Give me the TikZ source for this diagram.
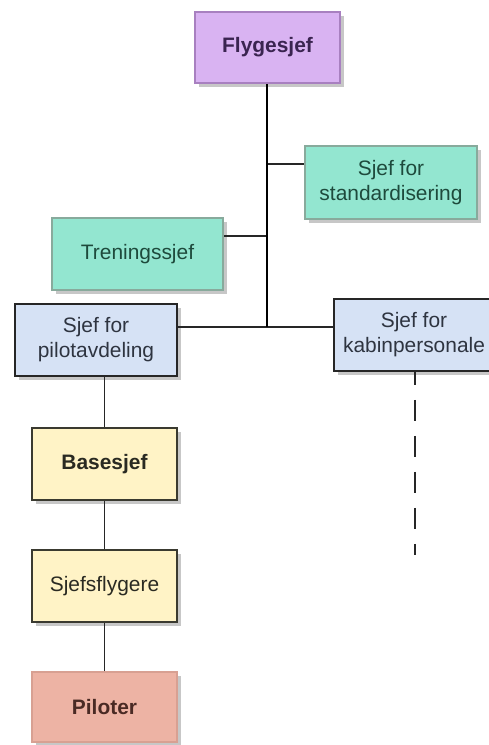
\documentclass[tikz,border=0pt]{standalone}
\usepackage{fontspec}
\setmainfont{Liberation Sans}
\usetikzlibrary{shadows}
\definecolor{purpfill}{HTML}{D9B3F2}
\definecolor{purpdraw}{HTML}{A880C0}
\definecolor{purptext}{HTML}{3A2450}
\definecolor{mintfill}{HTML}{93E6D0}
\definecolor{mintdraw}{HTML}{88AA9C}
\definecolor{minttext}{HTML}{1E4A3C}
\definecolor{bluefill}{HTML}{D6E2F5}
\definecolor{bluetext}{HTML}{2E3440}
\definecolor{yelfill}{HTML}{FFF3C6}
\definecolor{yeldraw}{HTML}{3A3A30}
\definecolor{yeltext}{HTML}{2A2A22}
\definecolor{salfill}{HTML}{EDB3A4}
\definecolor{saldraw}{HTML}{D8A092}
\definecolor{saltext}{HTML}{4A2A24}
\tikzset{
  box/.style={rectangle, align=center, line width=1.6pt, inner sep=2pt,
    font=\fontsize{21}{25}\selectfont,
    drop shadow={shadow xshift=4bp, shadow yshift=-4bp, fill=black, opacity=0.22}},
  purpbox/.style={box, fill=purpfill, draw=purpdraw, text=purptext},
  mintbox/.style={box, fill=mintfill, draw=mintdraw, text=minttext},
  bluebox/.style={box, fill=bluefill, draw=black!85, text=bluetext},
  yelbox/.style={box, fill=yelfill, draw=yeldraw, text=yeltext},
  salbox/.style={box, fill=salfill, draw=saldraw, text=saltext},
  conn/.style={line width=1.8pt, draw=black!85},
  trunk/.style={line width=3pt, draw=black}
}
\begin{document}
\begin{tikzpicture}[x=1bp, y=-1bp]
\fill[white] (0,0) rectangle (489,745);
\useasboundingbox (0,0) rectangle (489,745);

\node[purpbox, minimum width=145bp, minimum height=71bp, font=\fontsize{21}{25}\selectfont\bfseries] (fly) at (267.5,47.5) {Flygesjef};
\node[mintbox, minimum width=172bp, minimum height=73bp] (std) at (391,182.5) {Sjef for\\standardisering};
\node[mintbox, minimum width=171bp, minimum height=72bp] (tren) at (137.5,254) {Treningssjef};
\node[bluebox, minimum width=162bp, minimum height=72bp] (pil) at (96,340) {Sjef for\\pilotavdeling};
\node[bluebox, minimum width=160bp, minimum height=72bp] (kab) at (414,335) {Sjef for\\kabinpersonale};
\node[yelbox, minimum width=145bp, minimum height=72bp, font=\fontsize{21}{25}\selectfont\bfseries] (base) at (104.5,464) {Basesjef};
\node[yelbox, minimum width=145bp, minimum height=72bp] (sjf) at (104.5,586) {Sjefsflygere};
\node[salbox, minimum width=145bp, minimum height=70bp, font=\fontsize{21}{25}\selectfont\bfseries] (pilo) at (104.5,707) {Piloter};

\coordinate (j1) at (267,164);
\coordinate (j2) at (267,236);
\coordinate (j3) at (267,327);
\coordinate (kend) at (415,555);

\draw[conn] (j1) -- (j1 -| std.west);
\draw[conn] (j2) -- (j2 -| tren.east);
\draw[conn] (j3) -- (j3 -| pil.east);
\draw[conn] (j3) -- (j3 -| kab.west);
\draw[trunk] (fly.south -| j3) -- (j3);
\draw[conn] (base.north) -- (base.north |- pil.south);
\draw[conn] (sjf.north) -- (base.south);
\draw[conn] (pilo.north) -- (sjf.south);
\draw[conn, dash pattern=on 21bp off 15bp, dash phase=8bp] (kab.south -| kend) -- (kend);
\end{tikzpicture}
\end{document}
